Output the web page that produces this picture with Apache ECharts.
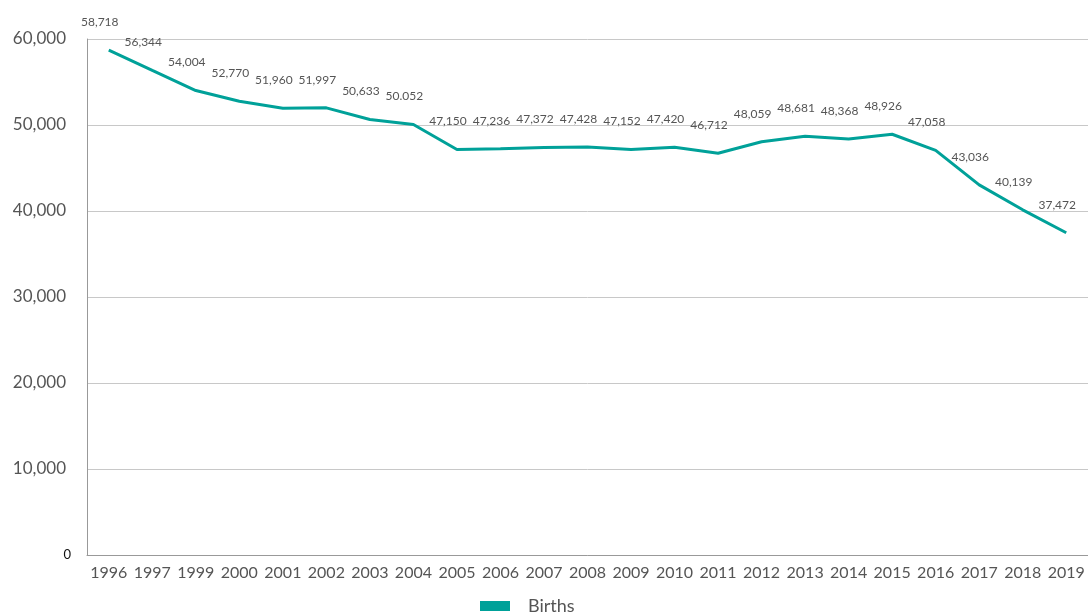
<!DOCTYPE html>
<html><head><meta charset="utf-8">
<script src="https://cdn.jsdelivr.net/npm/echarts@6/dist/echarts.min.js"></script>
<style>html,body{margin:0;padding:0;background:#fff}#c{width:1088px;height:613px}</style>
</head><body><div id="c"></div>
<script>
var years = ['1996','1997','1999','2000','2001','2002','2003','2004','2005','2006','2007','2008','2009','2010','2011','2012','2013','2014','2015','2016','2017','2018','2019'];
var births = [58718,56344,54004,52770,51960,51997,50633,50052,47150,47236,47372,47428,47152,47420,46712,48059,48681,48368,48926,47058,43036,40139,37472];
var pointLabels = ['58,718','56,344','54,004','52,770','51,960','51,997','50,633','50.052','47,150','47,236','47,372','47,428','47,152','47,420','46,712','48,059','48,681','48,368','48,926','47,058','43,036','40,139','37,472'];
var yTicks = [0,10000,20000,30000,40000,50000,60000];

var chart = echarts.init(document.getElementById('c'), null, {renderer:'canvas'});
chart.setOption({
  animation:false,
  grid:{left:87,right:0,top:39,bottom:58,containLabel:false},
  legend:{top:597,left:480,itemWidth:30,itemHeight:10,icon:'rect',padding:0,
    textStyle:{fontFamily:'Lato',fontSize:18,color:'#555',padding:[0,0,0,13]},data:['Births']},
  xAxis:{type:'category',data:years,boundaryGap:true,
    axisLine:{lineStyle:{color:'#999',width:1}},axisTick:{show:false},
    axisLabel:{fontFamily:'Lato',fontSize:16,color:'#555',margin:10,interval:0}},
  yAxis:{type:'value',min:0,max:60000,interval:10000,
    axisLine:{show:true,lineStyle:{color:'#999',width:1}},axisTick:{show:false},
    splitLine:{lineStyle:{color:'#c8c8c8',width:1}},
    axisLabel:{fontFamily:'Lato',fontSize:17,color:'#555',margin:21,
      formatter:function(v){return v===0?'{z|0}':echarts.format.addCommas(v);},
      rich:{z:{fontSize:13,color:'#111',fontFamily:'Lato',padding:[0,-5,0,0]}}}},
  series:[{name:'Births',type:'line',data:births,symbol:'circle',symbolSize:0,showSymbol:true,
    lineStyle:{color:'#00a199',width:3},itemStyle:{color:'#00a199'},
    label:{show:true,position:'top',distance:5,
      fontFamily:'Lato',fontSize:12,color:'#555',
      formatter:function(p){return pointLabels[p.dataIndex];}},
    labelLayout:{hideOverlap:false,dx:-9,dy:-17}}]
});
</script></body></html>
